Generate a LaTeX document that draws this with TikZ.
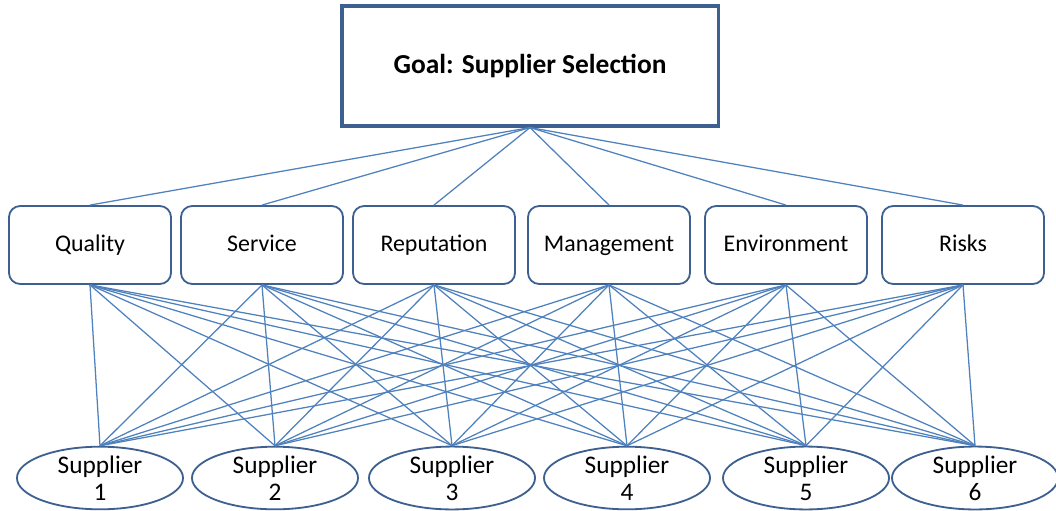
\documentclass[tikz,border=0pt]{standalone}
\usepackage{fontspec}
\setmainfont{Carlito}
\usetikzlibrary{shapes.geometric}
\definecolor{linkblue}{RGB}{79,129,189}
\definecolor{boxblue}{RGB}{62,96,145}
\tikzset{
	goalbox/.style={draw=boxblue, line width=2.2pt, minimum width=9.4cm, minimum height=3cm, font=\fontsize{19.5}{22}\selectfont\bfseries},
	critbox/.style={draw=boxblue, line width=1.3pt, rounded corners=8pt, minimum width=4.05cm, minimum height=1.95cm, text height=2.5ex, text depth=0.5ex, font=\fontsize{17}{20}\selectfont},
	suppnode/.style={draw=boxblue, line width=1.3pt, ellipse, minimum width=4.15cm, minimum height=1.55cm, inner sep=0pt, align=center, font=\fontsize{18}{19}\selectfont},
	link/.style={draw=linkblue, line width=0.9pt}
}

\begin{document}
\begin{tikzpicture}[x=0.025cm, y=-0.025cm]
			%%%%% START %%%%%
			\useasboundingbox (0, 0) rectangle (1056, 511);
			
			\node[goalbox] (goal) at (530, 66) {Goal: Supplier Selection};
			
			\node[critbox] (crit1) at (90, 245) {Quality};
			\node[critbox] (crit2) at (262, 245) {Service};
			\node[critbox] (crit3) at (434, 245) {Reputation};
			\node[critbox] (crit4) at (609, 245) {Management};
			\node[critbox] (crit5) at (786, 245) {Environment};
			\node[critbox] (crit6) at (963, 245) {Risks};
			
			\node[suppnode] (supp1) at (100, 478) {Supplier\\1};
			\node[suppnode] (supp2) at (275, 478) {Supplier\\2};
			\node[suppnode] (supp3) at (452, 478) {Supplier\\3};
			\node[suppnode] (supp4) at (627, 478) {Supplier\\4};
			\node[suppnode] (supp5) at (806, 478) {Supplier\\5};
			\node[suppnode] (supp6) at (975, 478) {Supplier\\6};
			
			\foreach \c in {1,...,6}{
				\draw[link] (goal.south) -- (crit\c.north);
				\foreach \s in {1,...,6}
					\draw[link] (crit\c.south) -- (supp\s.north);
			}
			
			%%%%% END %%%%%
\end{tikzpicture}
\end{document}
